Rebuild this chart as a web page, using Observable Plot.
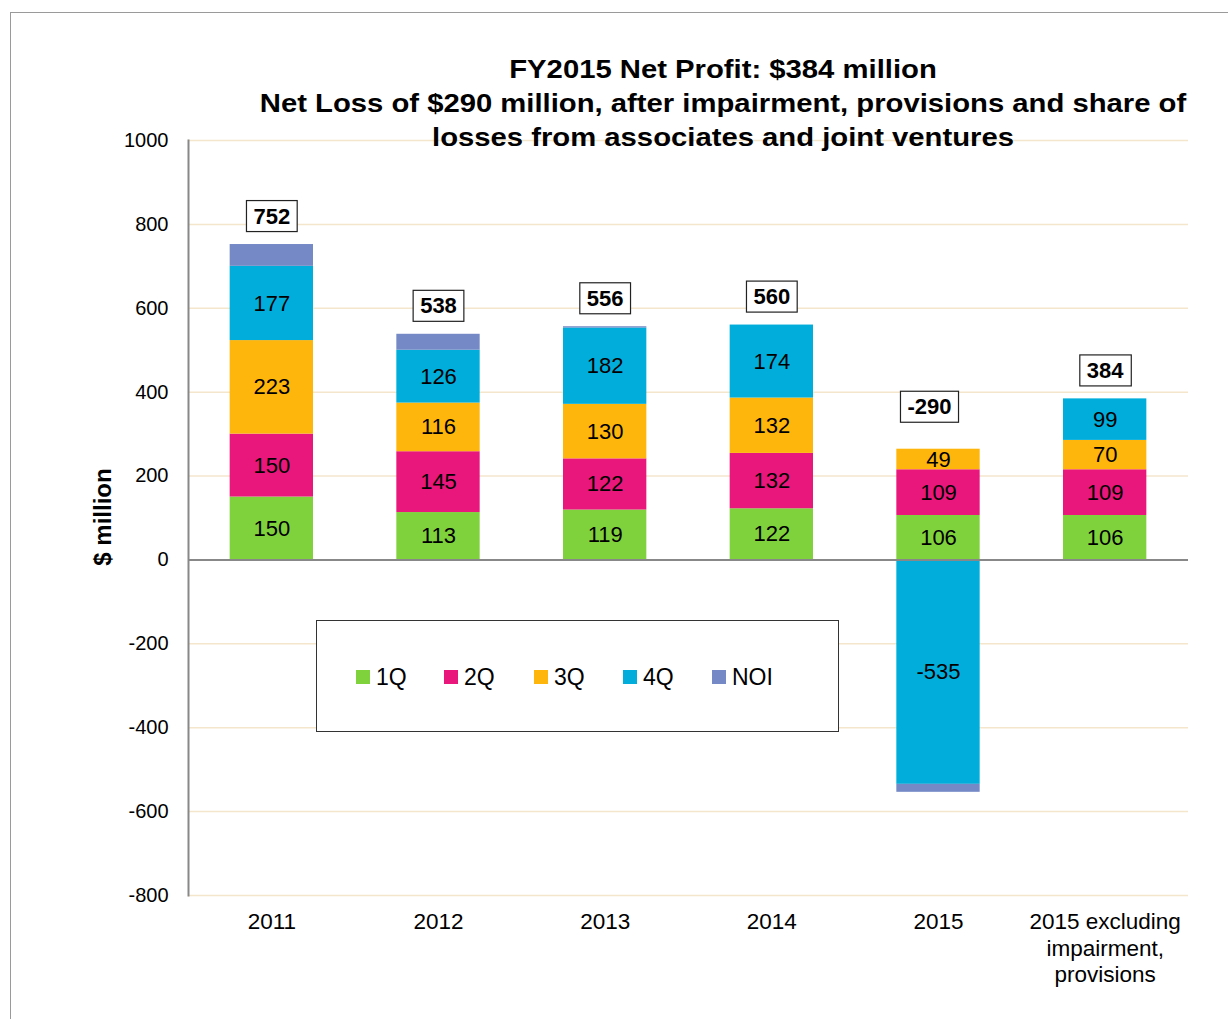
<!DOCTYPE html>
<html>
<head>
<meta charset="utf-8">
<script src="https://cdn.jsdelivr.net/npm/d3@7"></script>
<script src="https://cdn.jsdelivr.net/npm/@observablehq/plot@0.6"></script>
<style>
  html, body { margin: 0; padding: 0; background: #fff; }
  body { width: 1228px; height: 1019px; position: relative; overflow: hidden; font-family: "Liberation Sans", Arial, sans-serif; }
  #border { position: absolute; left: 10px; top: 12px; width: 1240px; height: 1040px; border: 1.5px solid #9a9a9a; box-sizing: border-box; }
  #title { position: absolute; left: 223px; width: 1000px; top: 52px; text-align: center; font-weight: bold; font-size: 25px; line-height: 34px; color: #000; transform: scaleX(1.17); transform-origin: 500px 0; }
  #ylabel { position: absolute; left: 103px; top: 517px; transform: translate(-50%, -50%) rotate(-90deg); font-weight: bold; font-size: 24px; white-space: nowrap; }
  #chart { position: absolute; left: 0; top: 0; }
  #legend { position: absolute; left: 316px; top: 620px; width: 523px; height: 112px; border: 1px solid #333; box-sizing: border-box; background: #fff; }
  .item { position: absolute; top: 0; height: 112px; display: flex; align-items: center; font-size: 23px; }
  .sw { width: 14px; height: 14px; margin-right: 6px; display: inline-block; }
</style>
</head>
<body>
<div id="border"></div>
<div id="chart"></div>
<div id="title">FY2015 Net Profit: $384 million<br>Net Loss of $290 million, after impairment, provisions and share of<br>losses from associates and joint ventures</div>
<div id="ylabel">$ million</div>
<div id="legend"></div>
<script>
const categories = ["2011", "2012", "2013", "2014", "2015", "2015 excluding impairment, provisions"];
const q1 = [150, 113, 119, 122, 106, 106];
const q2 = [150, 145, 122, 132, 109, 109];
const q3 = [223, 116, 130, 132, 49, 70];
const q4 = [177, 126, 182, 174, -535, 99];
const noi = [52, 38, 3, 0, -19, 0];
const totals = [752, 538, 556, 560, -290, 384];
const seriesNames = ["1Q", "2Q", "3Q", "4Q", "NOI"];
const seriesColors = ["#80d23c", "#e9177b", "#feb50c", "#00addb", "#7489c6"];
const yTicks = [-800, -600, -400, -200, 0, 200, 400, 600, 800, 1000];
const catLabels = ["2011", "2012", "2013", "2014", "2015", "2015 excluding\nimpairment,\nprovisions"];

const seriesValues = [q1, q2, q3, q4, noi];
const rows = [];
seriesNames.forEach((s, si) => {
  categories.forEach((c, ci) => rows.push({cat: c, q: s, v: seriesValues[si][ci]}));
});
const totalRows = categories.map((c, ci) => ({
  cat: c,
  total: totals[ci],
  top: seriesValues.reduce((a, arr) => a + Math.max(0, arr[ci]), 0)
}));

const font = '"Liberation Sans", Arial, sans-serif';
const plot = Plot.plot({
  width: 1228,
  height: 1019,
  marginLeft: 188,
  marginRight: 40,
  marginTop: 140,
  marginBottom: 124,
  style: {fontFamily: font, fontSize: "20px", color: "#000", background: "transparent"},
  x: {domain: categories, paddingInner: 0.5, paddingOuter: 0.25, round: false, axis: null},
  y: {domain: [-800, 1000], axis: null},
  color: {domain: seriesNames, range: seriesColors},
  marks: [
    Plot.gridY(yTicks, {stroke: "#f3e6cc", strokeOpacity: 1, strokeWidth: 1.5}),
    Plot.barY(rows, Plot.stackY({x: "cat", y: "v", z: "q", fill: "q", order: seriesNames})),
    Plot.text(rows, Plot.stackY({x: "cat", y: "v", z: "q", order: seriesNames,
      text: d => d.q === "NOI" ? "" : String(d.v), fontSize: 22, fill: "#000"})),
    Plot.ruleY([0], {stroke: "#888", strokeWidth: 2}),
    Plot.frame({anchor: "left", stroke: "#888", strokeWidth: 2}),
    Plot.axisY({ticks: yTicks, tickSize: 0, tickPadding: 20, fontSize: 20, label: null, tickFormat: d => String(d)}),
    Plot.axisX({tickSize: 0, tickPadding: 15, fontSize: 22.5, lineHeight: 1.17, label: null,
      tickFormat: d => catLabels[categories.indexOf(d)]}),
    Plot.text(totalRows.filter(d => d.total >= 0), {x: "cat", y: "top", text: d => String(d.total),
      dy: -28, fontSize: 22, fontWeight: "bold", fill: "#000"}),
    Plot.text(totalRows.filter(d => d.total < 0), {x: "cat", y: "top", text: d => String(d.total),
      dy: -42, dx: -9, fontSize: 22, fontWeight: "bold", fill: "#000"})
  ]
});
document.getElementById("chart").appendChild(plot);

// boxes around total labels
plot.querySelectorAll('g[font-weight="bold"] text').forEach(t => {
  const b = t.getBBox();
  const r = document.createElementNS("http://www.w3.org/2000/svg", "rect");
  r.setAttribute("x", b.x - 7);
  r.setAttribute("y", b.y - 3);
  r.setAttribute("width", b.width + 14);
  r.setAttribute("height", b.height + 6);
  r.setAttribute("fill", "#fff");
  r.setAttribute("stroke", "#222");
  r.setAttribute("stroke-width", 1.2);
  const tr = t.getAttribute("transform");
  if (tr) r.setAttribute("transform", tr);
  t.parentNode.insertBefore(r, t);
});

// legend
const legend = document.getElementById("legend");
const legendX = [39, 127, 217, 306, 395];
seriesNames.forEach((s, i) => {
  const it = document.createElement("div");
  it.className = "item";
  it.style.left = legendX[i] + "px";
  it.innerHTML = `<span class="sw" style="background:${seriesColors[i]}"></span>${s}`;
  legend.appendChild(it);
});
</script>
</body>
</html>
